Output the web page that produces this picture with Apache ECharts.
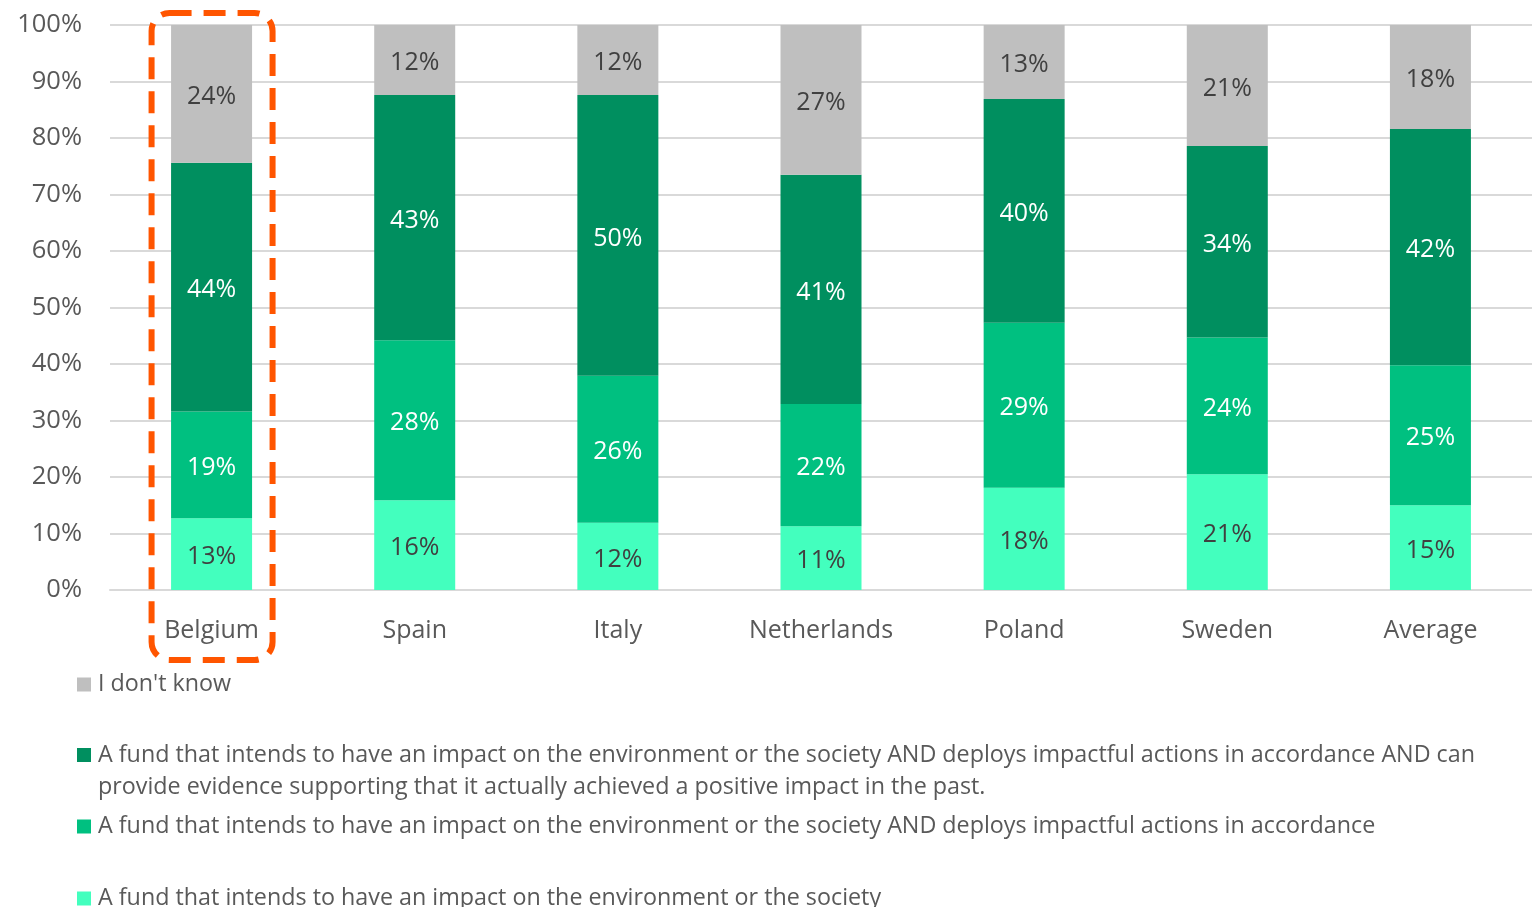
<!DOCTYPE html>
<html>
<head>
<meta charset="utf-8">
<script src="https://cdn.jsdelivr.net/npm/echarts@6/dist/echarts.min.js"></script>
<style>html,body{margin:0;padding:0;background:#fff;}#c{width:1532px;height:907px;}</style>
</head>
<body>
<div id="c"></div>
<script>
const categories = ['Belgium', 'Spain', 'Italy', 'Netherlands', 'Poland', 'Sweden', 'Average'];
const yTicks = [0, 10, 20, 30, 40, 50, 60, 70, 80, 90, 100];
const nameDontKnow = "I don't know";
const nameEvidence = 'A fund that intends to have an impact on the environment or the society AND deploys impactful actions in accordance AND can provide evidence supporting that it actually achieved a positive impact in the past.';
const nameActions = 'A fund that intends to have an impact on the environment or the society AND deploys impactful actions in accordance';
const nameIntends = 'A fund that intends to have an impact on the environment or the society';
const intendsValues = [12.7, 15.9, 11.9, 11.3, 18.1, 20.5, 15.0];
const actionsValues = [18.9, 28.3, 26.0, 21.6, 29.2, 24.2, 24.8];
const evidenceValues = [44.0, 43.4, 49.7, 40.6, 39.6, 33.9, 41.8];
const dontKnowValues = [24.4, 12.4, 12.4, 26.5, 13.1, 21.4, 18.4];

const FONT = '"Open Sans", "Noto Sans", sans-serif';
const chart = echarts.init(document.getElementById('c'));

function mkSeries(name, data, color, labelColor) {
  return {
    name, type: 'bar', stack: 'all', data, barWidth: 81,
    itemStyle: { color },
    label: {
      show: true, position: 'inside', color: labelColor, offset: [0, 3],
      fontFamily: FONT, fontSize: 25,
      formatter: p => Math.round(p.value) + '%'
    }
  };
}
function mkLegend(name, top, extra) {
  return Object.assign({
    data: [name], left: 77, top, orient: 'vertical', padding: 0,
    itemWidth: 14, itemHeight: 14, itemGap: 0, icon: 'rect', selectedMode: false,
    textStyle: { fontFamily: FONT, fontSize: 23.3, color: '#595959', padding: [0, 0, 0, 2] }
  }, extra || {});
}

const option = {
  animation: false,
  backgroundColor: '#fff',
  grid: { left: 110, right: 0, top: 25, bottom: 317 },
  xAxis: {
    type: 'category', data: categories,
    axisLine: { lineStyle: { color: '#D9D9D9', width: 2 } },
    axisTick: { show: false },
    axisLabel: { fontFamily: FONT, fontSize: 25, color: '#595959', margin: 28 }
  },
  yAxis: {
    type: 'value', min: 0, max: 100, interval: 10,
    axisLine: { show: false }, axisTick: { show: false },
    splitLine: { lineStyle: { color: '#D9D9D9', width: 2 } },
    axisLabel: { fontFamily: FONT, fontSize: 25.5, color: '#595959', margin: 28,
      padding: [4, 0, 0, 0],
      formatter: v => yTicks.includes(v) ? v + '%' : '' }
  },
  legend: [
    mkLegend(nameDontKnow, 673),
    mkLegend(nameEvidence, 707, {
      formatter: () => '\nA fund that intends to have an impact on the environment or the society AND deploys impactful actions in accordance AND can\nprovide evidence supporting that it actually achieved a positive impact in the past.',
      textStyle: { fontFamily: FONT, fontSize: 23.3, color: '#595959', lineHeight: 32, padding: [0, 0, 0, 2] }
    }),
    mkLegend(nameActions, 815),
    mkLegend(nameIntends, 887)
  ],
  series: [
    mkSeries(nameIntends, intendsValues, '#43FFBE', '#404040'),
    mkSeries(nameActions, actionsValues, '#00C080', '#FFFFFF'),
    mkSeries(nameEvidence, evidenceValues, '#008F5F', '#FFFFFF'),
    mkSeries(nameDontKnow, dontKnowValues, '#BFBFBF', '#404040')
  ]
};
chart.setOption(option);

const cx = chart.convertToPixel({ xAxisIndex: 0 }, categories[0]);
const yTop = chart.convertToPixel({ yAxisIndex: 0 }, 100);
chart.setOption({
  graphic: [{
    type: 'rect', z: 100,
    shape: { x: cx - 60, y: yTop - 12, width: 121, height: 647, r: 18 },
    style: { fill: 'none', stroke: '#FF5500', lineWidth: 6, lineDash: [22, 12] }
  }]
});
</script>
</body>
</html>
